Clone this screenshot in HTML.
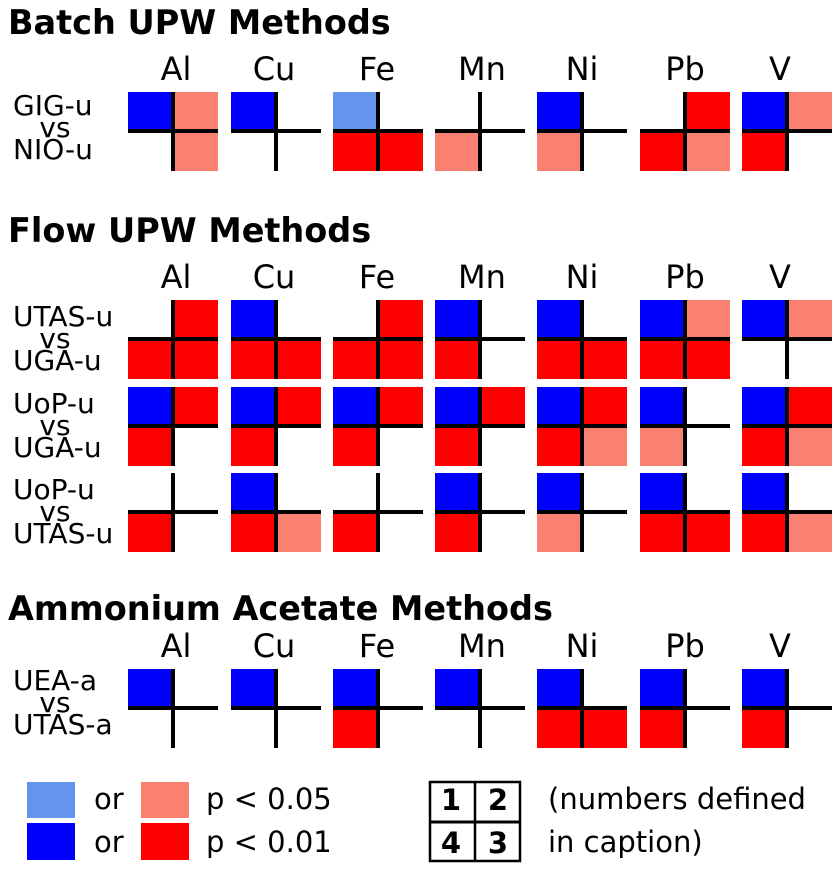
<!DOCTYPE html>
<html><head><meta charset="utf-8"><style>
html,body{margin:0;padding:0;background:#fff;width:840px;height:871px;overflow:hidden}
svg text{font-family:"DejaVu Sans","Liberation Sans",sans-serif;fill:#000}
.t{font-size:33.5px;font-weight:bold}
.c{font-size:32px;text-anchor:middle}
.r{font-size:28px}
.v{font-size:28px;text-anchor:middle}
.l{font-size:29px}
</style></head><body>
<svg id="s" width="840" height="871" xmlns="http://www.w3.org/2000/svg">
<text class="t" x="8" y="34">Batch UPW Methods</text>
<text class="t" x="8" y="242">Flow UPW Methods</text>
<text class="t" x="8" y="620">Ammonium Acetate Methods</text>
<text class="r" x="13" y="115">GIG-u</text><text class="v" x="55" y="137">vs</text><text class="r" x="13" y="159">NIO-u</text>
<text class="r" x="13" y="326">UTAS-u</text><text class="v" x="55" y="348">vs</text><text class="r" x="13" y="370">UGA-u</text>
<text class="r" x="13" y="413">UoP-u</text><text class="v" x="55" y="435">vs</text><text class="r" x="13" y="457">UGA-u</text>
<text class="r" x="13" y="499">UoP-u</text><text class="v" x="55" y="521">vs</text><text class="r" x="13" y="543">UTAS-u</text>
<text class="r" x="13" y="690">UEA-a</text><text class="v" x="55" y="712">vs</text><text class="r" x="13" y="734">UTAS-a</text>
<text class="c" x="176" y="80">Al</text><text class="c" x="274" y="80">Cu</text><text class="c" x="377" y="80">Fe</text><text class="c" x="482" y="80">Mn</text><text class="c" x="582" y="80">Ni</text><text class="c" x="685" y="80">Pb</text><text class="c" x="780" y="80">V</text>
<text class="c" x="176" y="288">Al</text><text class="c" x="274" y="288">Cu</text><text class="c" x="377" y="288">Fe</text><text class="c" x="482" y="288">Mn</text><text class="c" x="582" y="288">Ni</text><text class="c" x="685" y="288">Pb</text><text class="c" x="780" y="288">V</text>
<text class="c" x="176" y="657">Al</text><text class="c" x="274" y="657">Cu</text><text class="c" x="377" y="657">Fe</text><text class="c" x="482" y="657">Mn</text><text class="c" x="582" y="657">Ni</text><text class="c" x="685" y="657">Pb</text><text class="c" x="780" y="657">V</text>
<g id="cells"></g>
<rect x="27" y="782" width="48" height="36" fill="#6495ed"/>
<rect x="27" y="823" width="48" height="37" fill="#0000ff"/>
<rect x="141" y="782" width="48" height="36" fill="#fa8072"/>
<rect x="141" y="823" width="48" height="37" fill="#ff0000"/>
<text class="l" x="94" y="809">or</text><text class="l" x="94" y="852">or</text>
<text class="l" x="206" y="809">p &lt; 0.05</text><text class="l" x="206" y="852">p &lt; 0.01</text>
<rect x="430" y="782" width="90" height="79" fill="none" stroke="#000" stroke-width="2.5"/>
<line x1="475" y1="782" x2="475" y2="861" stroke="#000" stroke-width="2.5"/>
<line x1="430" y1="822" x2="520" y2="822" stroke="#000" stroke-width="3"/>
<text class="l" x="451" y="810" text-anchor="middle" font-weight="bold" font-size="30">1</text>
<text class="l" x="498" y="810" text-anchor="middle" font-weight="bold" font-size="30">2</text>
<text class="l" x="451" y="853" text-anchor="middle" font-weight="bold" font-size="30">4</text>
<text class="l" x="498" y="853" text-anchor="middle" font-weight="bold" font-size="30">3</text>
<text class="l" x="548" y="809">(numbers defined</text>
<text class="l" x="548" y="852">in caption)</text>
</svg>
<script>
var C={B:"#0000ff",b:"#6495ed",R:"#ff0000",r:"#fa8072",_:null};
var xs=[128,231,333,435,537,640,742];
var rows=[[92,"Br_r B___ b_RR __r_ B_r_ _RRr BrR_"],
[300,"_RRR B_RR _RRR B_R_ B_RR BrRR Br__"],
[387,"BRR_ BRR_ BRR_ BRR_ BRRr B_r_ BRRr"],
[473,"__R_ B_Rr __R_ B_R_ B_r_ B_RR B_Rr"],
[669,"B___ B___ B_R_ B___ B_RR B_R_ B_R_"]];
var g=document.getElementById("cells"),h="";
rows.forEach(function(r){var y=r[0],ds=r[1].split(" ");
ds.forEach(function(d,i){var x=xs[i];
var q=[[x,y],[x+45,y],[x,y+39],[x+45,y+39]];
for(var k=0;k<4;k++){var c=C[d[k]];if(c)h+='<rect x="'+q[k][0]+'" y="'+q[k][1]+'" width="45" height="'+(k<2?39:40)+'" fill="'+c+'"/>';}
h+='<rect x="'+(x+43)+'" y="'+y+'" width="4" height="79"/>';
h+='<rect x="'+x+'" y="'+(y+37)+'" width="90" height="4"/>';
});});
g.innerHTML=h;
</script>
</body></html>
